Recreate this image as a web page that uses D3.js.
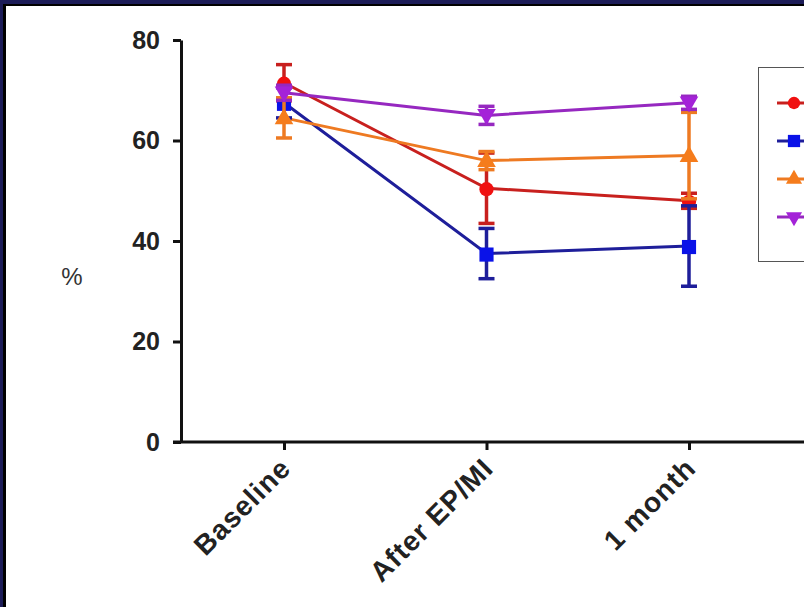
<!DOCTYPE html>
<html lang="en">
<head>
<meta charset="UTF-8" />
<script src="https://cdnjs.cloudflare.com/ajax/libs/d3/7.8.5/d3.min.js"></script>
<style>
body { margin: 0; background: #fff; }
svg { display: block; }
</style>
</head>
<body>
<svg id="chart" width="804" height="607"></svg>
<script>
// categories and series
const categories = ['Baseline', 'After EP/MI', '1 month'];
const yTicks = [0, 20, 40, 60, 80];

const redMean = [71.5, 50.5, 48.0];
const redErr = [3.6, 7.0, 1.5];
const blueMean = [67.5, 37.5, 39.0];
const blueErr = [3.0, 5.0, 8.0];
const orangeMean = [64.5, 56.0, 57.0];
const orangeErr = [4.0, 1.8, 8.6];
const purpleMean = [69.5, 65.0, 67.5];
const purpleErr = [1.5, 1.8, 1.3];

const series = [
  { mean: redMean, err: redErr, line: '#c8201e', fill: '#f01010', shape: d3.symbolCircle, size: 160, rot: 0 },
  { mean: blueMean, err: blueErr, line: '#1e1e9a', fill: '#0a12e8', shape: d3.symbolSquare, size: 200, rot: 0 },
  { mean: orangeMean, err: orangeErr, line: '#ee7a22', fill: '#f57c1c', shape: d3.symbolTriangle, size: 150, rot: 0 },
  { mean: purpleMean, err: purpleErr, line: '#9628c0', fill: '#a422d8', shape: d3.symbolTriangle, size: 150, rot: 180 }
];

const svg = d3.select('#chart');
const font = '"Liberation Sans", Arial, sans-serif';

// frame (navy + black edge on top/left)
svg.append('rect').attr('x', 0).attr('y', 0).attr('width', 804).attr('height', 607).attr('fill', '#fff');
svg.append('rect').attr('x', 0).attr('y', 0).attr('width', 804).attr('height', 6).attr('fill', '#000');
svg.append('rect').attr('x', 0).attr('y', 0).attr('width', 6).attr('height', 607).attr('fill', '#000');
svg.append('rect').attr('x', 0).attr('y', 0).attr('width', 804).attr('height', 4).attr('fill', '#1c1c58');
svg.append('rect').attr('x', 0).attr('y', 0).attr('width', 3).attr('height', 607).attr('fill', '#1c1c58');

const x = d3.scalePoint().domain(categories).range([284, 689]);
const y = d3.scaleLinear().domain([0, 80]).range([442, 40]);
const axisX = 181;

// y axis
const yAxis = svg.append('g')
  .attr('transform', `translate(${axisX},0)`)
  .call(d3.axisLeft(y).tickValues(yTicks).tickSize(8).tickSizeOuter(0).tickPadding(13));
yAxis.select('.domain').attr('stroke', '#111').attr('stroke-width', 3);
yAxis.selectAll('.tick line').attr('stroke', '#111').attr('stroke-width', 3);
yAxis.selectAll('.tick text')
  .attr('fill', '#222')
  .style('font-family', font)
  .style('font-weight', 'bold')
  .style('font-size', '25px');

// x axis
const xAxis = svg.append('g')
  .attr('transform', `translate(0,${y(0)})`)
  .call(d3.axisBottom(x).tickSize(8));
xAxis.select('.domain').remove();
xAxis.append('line')
  .attr('x1', axisX - 8).attr('x2', 804)
  .attr('y1', 0).attr('y2', 0)
  .attr('stroke', '#111').attr('stroke-width', 3);
xAxis.selectAll('.tick line').attr('stroke', '#111').attr('stroke-width', 3);
xAxis.selectAll('.tick text')
  .attr('fill', '#222')
  .attr('x', 0).attr('y', 0).attr('dy', 0)
  .attr('text-anchor', 'end')
  .attr('transform', 'translate(8,28) rotate(-45)')
  .style('font-family', font)
  .style('font-weight', 'bold')
  .style('font-size', '28px')
  .style('letter-spacing', '1px');

// y label
svg.append('text')
  .attr('x', 72).attr('y', 285)
  .attr('text-anchor', 'middle')
  .attr('fill', '#333')
  .style('font-family', font)
  .style('font-size', '24px')
  .text('%');

const line = d3.line().x((d, i) => x(categories[i])).y(d => y(d));
const plot = svg.append('g');

// lines first
series.forEach(s => {
  plot.append('path')
    .attr('d', line(s.mean))
    .attr('fill', 'none')
    .attr('stroke', s.line)
    .attr('stroke-width', 3);
});

// error bars and markers
series.forEach(s => {
  const g = plot.append('g');
  s.mean.forEach((m, i) => {
    const cx = x(categories[i]);
    const top = y(m + s.err[i]);
    const bot = y(m - s.err[i]);
    g.append('line').attr('x1', cx).attr('x2', cx).attr('y1', top).attr('y2', bot)
      .attr('stroke', s.line).attr('stroke-width', 3.5);
    [top, bot].forEach(yy => {
      g.append('line').attr('x1', cx - 8).attr('x2', cx + 8).attr('y1', yy).attr('y2', yy)
        .attr('stroke', s.line).attr('stroke-width', 3.5);
    });
    g.append('path')
      .attr('d', d3.symbol().type(s.shape).size(s.size)())
      .attr('transform', `translate(${cx},${y(m) + (s.rot ? -1 : 1)}) rotate(${s.rot})`)
      .attr('fill', s.fill);
  });
});

// legend (cut off at the right edge)
const legend = svg.append('g');
legend.append('rect')
  .attr('x', 758.5).attr('y', 67.5).attr('width', 80).attr('height', 194)
  .attr('fill', '#fff').attr('stroke', '#555').attr('stroke-width', 1);
series.forEach((s, i) => {
  const ly = 103 + i * 38;
  legend.append('line').attr('x1', 777).attr('x2', 808).attr('y1', ly).attr('y2', ly)
    .attr('stroke', s.line).attr('stroke-width', 3);
  legend.append('path')
    .attr('d', d3.symbol().type(s.shape).size(s.size * 0.75)())
    .attr('transform', `translate(794,${ly}) rotate(${s.rot})`)
    .attr('fill', s.fill);
});
</script>
</body>
</html>
